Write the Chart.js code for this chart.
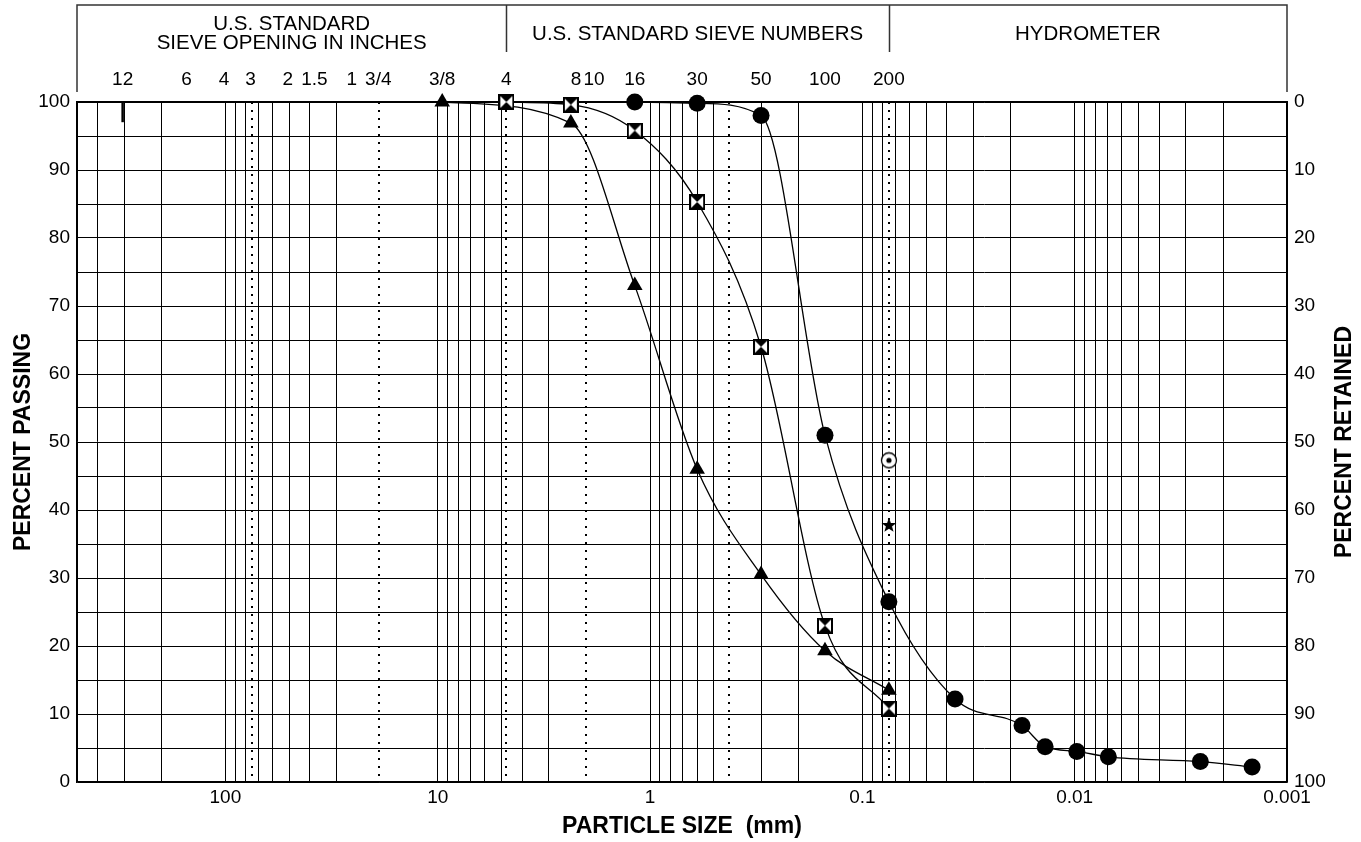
<!DOCTYPE html>
<html>
<head>
<meta charset="utf-8">
<title>Grain size distribution</title>
<script src="https://cdn.jsdelivr.net/npm/chart.js@4.4.1/dist/chart.umd.min.js"></script>
<style>
  html, body { margin: 0; padding: 0; background: #fff; }
  #wrap { width: 1361px; height: 842px; }
</style>
</head>
<body>
<div id="wrap"><canvas id="grainChart" width="1361" height="842"></canvas></div>
<script>
/*
 Grain size distribution chart
 Percent passing vs particle size (mm), log scale running from coarse to fine.
*/

const FONT = "'Liberation Sans', Arial, sans-serif";

// vertical grid lines (mm)
const gridSizes = [500, 400, 300, 200, 100, 90, 80, 75, 70, 60, 50, 40, 30, 19,
  10, 9, 8, 7, 6, 5, 4.75, 4, 3, 2, 1, 0.9, 0.8, 0.7, 0.6, 0.5, 0.425, 0.3, 0.2,
  0.1, 0.09, 0.08, 0.075, 0.07, 0.06, 0.05, 0.04, 0.03, 0.02,
  0.01, 0.009, 0.008, 0.007, 0.006, 0.005, 0.004, 0.003, 0.002, 0.001];
// boundaries drawn dotted
const dottedSizes = [75, 19, 4.75, 2, 0.425, 0.075];
// labelled sizes on the bottom axis
const decadeTicks = [100, 10, 1, 0.1, 0.01, 0.001];

// sieves on the top axis
const sieveSizes = [304.8, 152.4, 101.6, 76.2, 50.8, 38.1, 25.4, 19.05, 9.525,
  4.75, 2.36, 2.0, 1.18, 0.6, 0.3, 0.15, 0.075];
const sieveLabels = ['12', '6', '4', '3', '2', '1.5', '1', '3/4', '3/8',
  '4', '  8', '   10', '16', '30', '50', '100', '200'];

// header groups above the sieve labels
const headerGroups = [
  { from: 500, to: 4.75, lines: ['U.S. STANDARD', 'SIEVE OPENING IN INCHES'] },
  { from: 4.75, to: 0.075, lines: ['U.S. STANDARD SIEVE NUMBERS'] },
  { from: 0.075, to: 0.001, lines: ['HYDROMETER'] }
];

// sample 1 (filled circles) - sieve + hydrometer
const circleSize = [1.18, 0.6, 0.3, 0.15, 0.075, 0.0366, 0.0177, 0.01378, 0.00977, 0.00694, 0.00256, 0.00146];
const circlePassing = [100, 99.8, 98, 51, 26.5, 12.2, 8.3, 5.2, 4.5, 3.7, 3.0, 2.2];

// sample 2 (hourglass squares)
const squareSize = [4.75, 2.36, 1.18, 0.6, 0.3, 0.15, 0.075];
const squarePassing = [100, 99.6, 95.8, 85.3, 64, 23, 10.8];

// sample 3 (triangles)
const triangleSize = [9.525, 2.36, 1.18, 0.6, 0.3, 0.15, 0.075];
const trianglePassing = [100, 96.9, 73, 46, 30.5, 19.3, 13.5];

// single points
const ringDotPoint = [0.075, 47.3];
const starPoint = [0.075, 37.8];
const barPoint = [304.8, 98.5];

function toXY(sizes, values) {
  return sizes.map((s, i) => ({ x: s, y: values[i] }));
}

function isDotted(ctx) {
  return !!(ctx.tick && dottedSizes.includes(ctx.tick.value));
}

// custom marker images
function hourglassMarker() {
  const c = document.createElement('canvas');
  c.width = 16; c.height = 16;
  const g = c.getContext('2d');
  g.fillStyle = '#fff';
  g.fillRect(0, 0, 16, 16);
  g.fillStyle = '#000';
  g.beginPath(); g.moveTo(1, 1); g.lineTo(15, 1); g.lineTo(8, 8); g.closePath(); g.fill();
  g.beginPath(); g.moveTo(1, 15); g.lineTo(15, 15); g.lineTo(8, 8); g.closePath(); g.fill();
  g.lineWidth = 2;
  g.strokeStyle = '#000';
  g.strokeRect(1, 1, 14, 14);
  return c;
}

function ringDotMarker() {
  const c = document.createElement('canvas');
  c.width = 18; c.height = 18;
  const g = c.getContext('2d');
  g.fillStyle = '#fff';
  g.beginPath(); g.arc(9, 9, 7.5, 0, Math.PI * 2); g.fill();
  g.lineWidth = 1.3;
  g.strokeStyle = '#000';
  g.stroke();
  g.fillStyle = '#000';
  g.beginPath(); g.arc(9, 9, 2.6, 0, Math.PI * 2); g.fill();
  return c;
}

function starMarker() {
  const c = document.createElement('canvas');
  c.width = 16; c.height = 16;
  const g = c.getContext('2d');
  g.fillStyle = '#000';
  g.beginPath();
  for (let i = 0; i < 10; i++) {
    const r = i % 2 === 0 ? 7.8 : 3.2;
    const a = -Math.PI / 2 + i * Math.PI / 5;
    const px = 8 + Math.cos(a) * r, py = 8.5 + Math.sin(a) * r;
    if (i === 0) g.moveTo(px, py); else g.lineTo(px, py);
  }
  g.closePath();
  g.fill();
  return c;
}

// header box, group titles and the right-hand title
const headerPlugin = {
  id: 'sheetHeader',
  afterDraw(chart) {
    const { ctx, chartArea } = chart;
    const xs = chart.scales.x;
    const topY = 5, midY = 52, lowY = 92;
    ctx.save();
    ctx.strokeStyle = '#333';
    ctx.lineWidth = 1.5;
    ctx.beginPath();
    ctx.moveTo(chartArea.left, lowY);
    ctx.lineTo(chartArea.left, topY);
    ctx.lineTo(chartArea.right, topY);
    ctx.lineTo(chartArea.right, lowY);
    headerGroups.slice(1).forEach(gr => {
      const px = Math.round(xs.getPixelForValue(gr.from)) + 0.5;
      ctx.moveTo(px, topY);
      ctx.lineTo(px, midY);
    });
    ctx.stroke();

    ctx.fillStyle = '#000';
    ctx.font = '20.5px ' + FONT;
    ctx.textAlign = 'center';
    ctx.textBaseline = 'middle';
    headerGroups.forEach(gr => {
      const cx = (xs.getPixelForValue(gr.from) + xs.getPixelForValue(gr.to)) / 2;
      const y0 = gr.lines.length > 1 ? 24 : 34;
      gr.lines.forEach((t, i) => ctx.fillText(t, cx, y0 + i * 19));
    });

    ctx.font = 'bold 23px ' + FONT;
    ctx.translate(1345, (chartArea.top + chartArea.bottom) / 2);
    ctx.rotate(-Math.PI / 2);
    ctx.fillText('PERCENT RETAINED', 0, 0);
    ctx.restore();
  }
};

document.addEventListener('DOMContentLoaded', function() {
  Chart.defaults.font.family = FONT;
  Chart.defaults.font.size = 19;
  Chart.defaults.color = '#000';

  const lineStyle = {
    showLine: true,
    borderColor: '#000',
    borderWidth: 1.3,
    tension: 0.4,
    cubicInterpolationMode: 'monotone',
    clip: false,
    xAxisID: 'x',
    yAxisID: 'y'
  };
  const pointOnly = { showLine: false, clip: false, xAxisID: 'x', yAxisID: 'y' };

  const ctx = document.getElementById('grainChart').getContext('2d');
  new Chart(ctx, {
    type: 'scatter',
    data: {
      datasets: [
        Object.assign({
          label: 'Sample 1',
          data: toXY(circleSize, circlePassing),
          pointStyle: 'circle',
          pointRadius: 8.5,
          pointBackgroundColor: '#000',
          pointBorderWidth: 0
        }, lineStyle),
        Object.assign({
          label: 'Sample 2',
          data: toXY(squareSize, squarePassing),
          pointStyle: hourglassMarker(),
          pointRadius: 8
        }, lineStyle),
        Object.assign({
          label: 'Sample 3',
          data: toXY(triangleSize, trianglePassing),
          pointStyle: 'triangle',
          pointRadius: 9,
          pointBackgroundColor: '#000',
          pointBorderWidth: 0
        }, lineStyle),
        Object.assign({
          label: 'Point A',
          data: [{ x: ringDotPoint[0], y: ringDotPoint[1] }],
          pointStyle: ringDotMarker(),
          pointRadius: 9
        }, pointOnly),
        Object.assign({
          label: 'Point B',
          data: [{ x: starPoint[0], y: starPoint[1] }],
          pointStyle: starMarker(),
          pointRadius: 8
        }, pointOnly),
        Object.assign({
          label: 'Point C',
          data: [{ x: barPoint[0], y: barPoint[1] }],
          pointStyle: 'line',
          rotation: 90,
          pointRadius: 10,
          pointBorderColor: '#000',
          pointBorderWidth: 2.5
        }, pointOnly)
      ]
    },
    options: {
      responsive: false,
      animation: false,
      layout: { padding: 0 },
      plugins: {
        legend: { display: false },
        tooltip: { enabled: false }
      },
      scales: {
        x: {
          type: 'logarithmic',
          position: 'bottom',
          min: 0.001,
          max: 500,
          reverse: true,
          afterBuildTicks: s => { s.ticks = gridSizes.map(v => ({ value: v })); },
          afterFit: s => { s.height = 60; },
          ticks: {
            autoSkip: false,
            maxRotation: 0,
            padding: 4,
            callback: v => decadeTicks.includes(v) ? String(v) : ''
          },
          grid: {
            color: '#000',
            lineWidth: c => isDotted(c) ? 2 : 1,
            drawTicks: false
          },
          border: {
            display: true,
            color: '#000',
            width: 1.5,
            dash: c => isDotted(c) ? [2, 6] : []
          },
          title: {
            display: true,
            text: 'PARTICLE SIZE  (mm)',
            font: { size: 23, weight: 'bold' },
            padding: { top: 0, bottom: 2 }
          }
        },
        x2: {
          type: 'logarithmic',
          position: 'top',
          min: 0.001,
          max: 500,
          reverse: true,
          afterBuildTicks: s => { s.ticks = sieveSizes.map(v => ({ value: v })); },
          afterFit: s => { s.height = 102; },
          ticks: {
            autoSkip: false,
            maxRotation: 0,
            padding: 11,
            callback: (v, i) => sieveLabels[i]
          },
          grid: { display: false, drawTicks: false },
          border: { display: true, color: '#000', width: 1.5 }
        },
        y: {
          position: 'left',
          min: 0,
          max: 100,
          afterFit: s => { s.width = 77; },
          ticks: {
            stepSize: 5,
            padding: 7,
            callback: v => v % 10 === 0 ? v : ''
          },
          grid: { color: '#000', lineWidth: 1, drawTicks: false },
          border: { display: true, color: '#000', width: 1.5 },
          title: {
            display: true,
            text: 'PERCENT PASSING',
            font: { size: 23, weight: 'bold' },
            padding: { top: 10, bottom: 0 }
          }
        },
        y2: {
          position: 'right',
          min: 0,
          max: 100,
          reverse: true,
          afterFit: s => { s.width = 74; },
          ticks: { stepSize: 10, padding: 7 },
          grid: { display: false, drawTicks: false },
          border: { display: true, color: '#000', width: 1.5 }
        }
      }
    },
    plugins: [headerPlugin]
  });
});
</script>
</body>
</html>
